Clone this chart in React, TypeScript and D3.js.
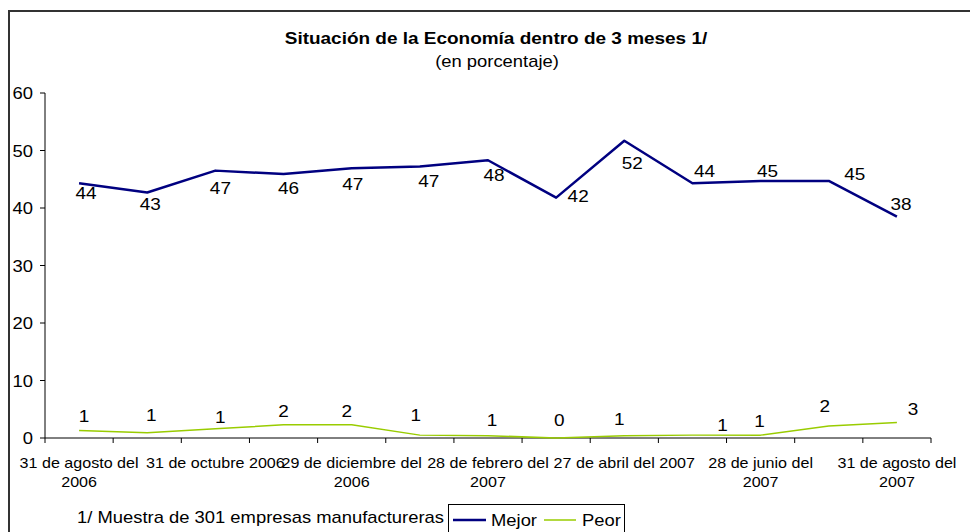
import * as d3 from "d3";
import React from "react";

const title = "Situación de la Economía dentro de 3 meses 1/";
const subtitle = "(en porcentaje)";
const footnote = "1/ Muestra de 301 empresas manufactureras";

// x-axis labels, only every other survey date is labelled (already wrapped as in the original)
const tickLabels = [
  ["31 de agosto del", "2006"],
  null,
  ["31 de octubre 2006"],
  null,
  ["29 de diciembre del", "2006"],
  null,
  ["28 de febrero del", "2007"],
  null,
  ["27 de abril del 2007"],
  null,
  ["28 de junio del", "2007"],
  null,
  ["31 de agosto del", "2007"],
];

const mejorValues = [44.3, 42.7, 46.5, 45.9, 46.9, 47.2, 48.3, 41.8, 51.7, 44.3, 44.7, 44.7, 38.5];
const mejorLabels = ["44", "43", "47", "46", "47", "47", "48", "42", "52", "44", "45", "45", "38"];
const peorValues = [1.3, 0.9, 1.6, 2.3, 2.3, 0.5, 0.4, 0, 0.4, 0.5, 0.5, 2.1, 2.7];
const peorLabels = ["1", "1", "1", "2", "2", "1", "1", "0", "1", "1", "1", "2", "3"];
const yTicks = [0, 10, 20, 30, 40, 50, 60];

// where the spreadsheet dropped each data label, relative to its point
const mejorNudge = [
  [7, 16], [3, 18], [5, 23], [5, 20], [1, 22], [9, 20], [6, 21],
  [22, 4], [8, 28], [12, -6], [7, -4], [26, -1], [4, -7],
];
const peorNudge = [
  [5, -9], [4, -12], [5, -6], [0, -8], [-5, -8], [-4, -14], [4, -10],
  [3, -12], [-5, -11], [30, -4], [-1, -8], [-4, -14], [16, -7],
];

const WIDTH = 970;
const HEIGHT = 532;
const SX = 1.15; // the source image is stretched horizontally
const FONT = "'Liberation Sans', Arial, sans-serif";

const MEJOR = "#000080";
const PEOR = "#99cc00";

function Txt({ x, y, size, anchor = "start", weight = "normal", children }) {
  return (
    <text
      transform={`translate(${x},${y}) scale(${SX},1)`}
      fontFamily={FONT}
      fontSize={size}
      fontWeight={weight}
      textAnchor={anchor}
      fill="#000"
    >
      {children}
    </text>
  );
}

function Series({ values, labels, nudge, xPos, y, color, width }) {
  const line = d3
    .line()
    .x((d, i) => xPos(i))
    .y((d) => y(d));
  return (
    <g>
      <path d={line(values)} fill="none" stroke={color} strokeWidth={width} strokeLinejoin="round" />
      {values.map((v, i) => (
        <Txt
          key={i}
          x={xPos(i) + nudge[i][0]}
          y={y(v) + nudge[i][1]}
          size={16.5}
          anchor="middle"
        >
          {labels[i]}
        </Txt>
      ))}
    </g>
  );
}

export default function App() {
  const left = 45;
  const right = 931;
  const top = 93;
  const bottom = 438;

  const x = d3
    .scaleBand()
    .domain(d3.range(mejorValues.length))
    .range([left, right]);
  const xPos = (i) => x(i) + x.bandwidth() / 2;
  const y = d3.scaleLinear().domain([0, 60]).range([bottom, top]);

  const boundaries = d3.range(mejorValues.length).map((i) => x(i)).concat([right]);

  return (
    <svg
      width={WIDTH}
      height={HEIGHT}
      style={{ position: "absolute", left: 0, top: 0, background: "#fff" }}
    >
      <rect x={0} y={0} width={WIDTH} height={HEIGHT} fill="#fff" />
      <path d={`M9,${HEIGHT + 5}V11H${WIDTH + 5}`} fill="none" stroke="#333" strokeWidth={2} />

      <Txt x={496} y={44} size={16.5} weight="bold" anchor="middle">
        {title}
      </Txt>
      <Txt x={497} y={67} size={16} anchor="middle">
        {subtitle}
      </Txt>

      {/* y axis */}
      <line x1={left} x2={left} y1={top} y2={bottom} stroke="#000" />
      {yTicks.map((t) => (
        <g key={t}>
          <line x1={left - 5} x2={left} y1={y(t)} y2={y(t)} stroke="#000" />
          <Txt x={33} y={y(t) + 6} size={16} anchor="end">
            {t}
          </Txt>
        </g>
      ))}

      {/* x axis */}
      <line x1={left} x2={right} y1={bottom} y2={bottom} stroke="#000" />
      {boundaries.map((b, i) => (
        <line key={i} x1={b} x2={b} y1={bottom} y2={bottom + 5} stroke="#000" />
      ))}
      {tickLabels.map((lines, i) =>
        lines
          ? lines.map((l, j) => (
              <Txt key={`${i}-${j}`} x={xPos(i)} y={468 + j * 19} size={14} anchor="middle">
                {l}
              </Txt>
            ))
          : null
      )}

      <Series values={peorValues} labels={peorLabels} nudge={peorNudge} xPos={xPos} y={y} color={PEOR} width={1.5} />
      <Series values={mejorValues} labels={mejorLabels} nudge={mejorNudge} xPos={xPos} y={y} color={MEJOR} width={2.5} />

      {/* footnote + legend */}
      <Txt x={77} y={523} size={16}>
        {footnote}
      </Txt>
      <rect x={448.5} y={504.5} width={176} height={32} fill="#fff" stroke="#000" />
      <line x1={453} x2={486} y1={520} y2={520} stroke={MEJOR} strokeWidth={2.5} />
      <Txt x={491} y={526} size={16}>
        Mejor
      </Txt>
      <line x1={544} x2={576} y1={520} y2={520} stroke={PEOR} strokeWidth={1.5} />
      <Txt x={582} y={526} size={16}>
        Peor
      </Txt>
    </svg>
  );
}
